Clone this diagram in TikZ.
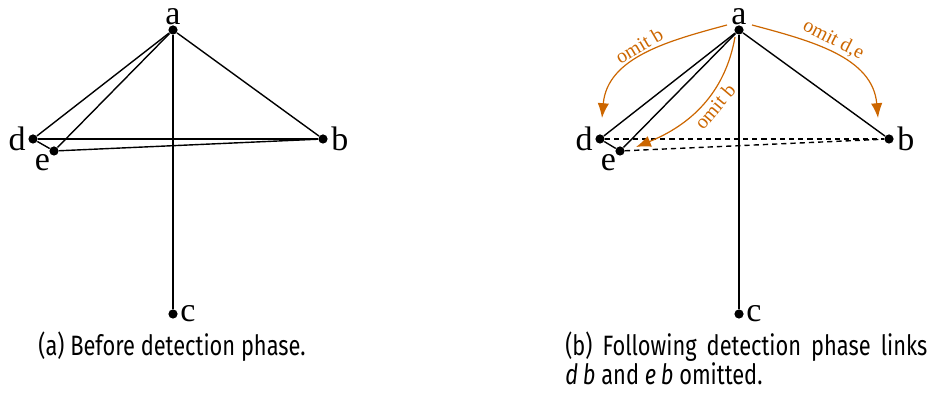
\documentclass[tikz,border=0pt]{standalone}
\usepackage{fontspec}
\setmainfont{Liberation Serif}
\newfontfamily\capfont[FakeStretch=0.78]{Fira Sans}
\usetikzlibrary{arrows.meta}
\definecolor{omitcolor}{RGB}{204,102,0}

\begin{document}
\begin{tikzpicture}[
  x=0.5pt,y=0.5pt,
  dot/.style={
    circle,fill=black,inner sep=0pt,minimum size=4.6pt,
    label distance=0pt
  },
  every label/.style={font=\fontsize{17}{19}\selectfont},
  link/.style={draw=black,line width=0.7pt},
  omitted/.style={link,dash pattern=on 2.6pt off 2pt},
  arrow/.style={-{Latex[length=2.6mm,width=2mm]},draw=omitcolor,line width=0.6pt},
  note/.style={text=omitcolor,font=\fontsize{10}{12}\selectfont,inner sep=1.5pt},
  caption/.style={font=\capfont\fontsize{14}{14.5}\selectfont,inner sep=0pt}
]
\useasboundingbox (0,0) rectangle (929,394);

% (a) before detection
\node[dot,label={[inner sep=0pt]above:a}] (a1) at (173,364) {};
\node[dot,label={[inner sep=1pt]left:d}] (d1) at (33,255) {};
\node[dot,label={[inner sep=0pt]below left:e}] (e1) at (54,243) {};
\node[dot,label={[inner sep=1.5pt]right:b}] (b1) at (323,255) {};
\node[dot,label={[inner sep=1pt]right:c}] (c1) at (173,80) {};

\draw[link] (a1) -- (d1);
\draw[link] (a1) -- (e1);
\draw[link] (a1) -- (b1);
\draw[link] (a1) -- (c1);
\draw[link] (d1) -- (e1);
\draw[link] (d1) -- (b1);
\draw[link] (e1) -- (b1);

\node[caption,anchor=base] (capa) at (172,38) {(a) Before detection phase.};

% (b) after detection
\node[dot,label={[inner sep=0pt]above:a}] (a2) at (739,364) {};
\node[dot,label={[inner sep=1pt]left:d}] (d2) at (600,255) {};
\node[dot,label={[inner sep=0pt]below left:e}] (e2) at (620,243) {};
\node[dot,label={[inner sep=1.5pt]right:b}] (b2) at (889,255) {};
\node[dot,label={[inner sep=1pt]right:c}] (c2) at (739,80) {};

\draw[link] (a2) -- (d2);
\draw[link] (a2) -- (e2);
\draw[link] (a2) -- (b2);
\draw[link] (a2) -- (c2);
\draw[link] (d2) -- (e2);
\draw[omitted] (d2) -- (b2);
\draw[omitted] (e2) -- (b2);

\coordinate (s1) at (727,369);
\coordinate (t1) at (602,276);
\coordinate (s2) at (735,357);
\coordinate (t2) at (636,247);
\coordinate (s3) at (752,369);
\coordinate (t3) at (878,276);

\draw[arrow] (s1) to[out=195,in=85]
  node[note,sloped,above,pos=0.5] {omit b} (t1);
\draw[arrow] (s2) to[out=-100,in=22]
  node[note,sloped,below,pos=0.45] {omit b} (t2);
\draw[arrow] (s3) to[out=-15,in=95]
  node[note,sloped,above,pos=0.45] {omit d,e} (t3);

\node[caption,anchor=base west,align=left] (capb) at (565,9)
  {\makebox[181pt][s]{(b) Following detection phase links}\\
   \textit{d\,b} and \textit{e\,b} omitted.};

\end{tikzpicture}
\end{document}
